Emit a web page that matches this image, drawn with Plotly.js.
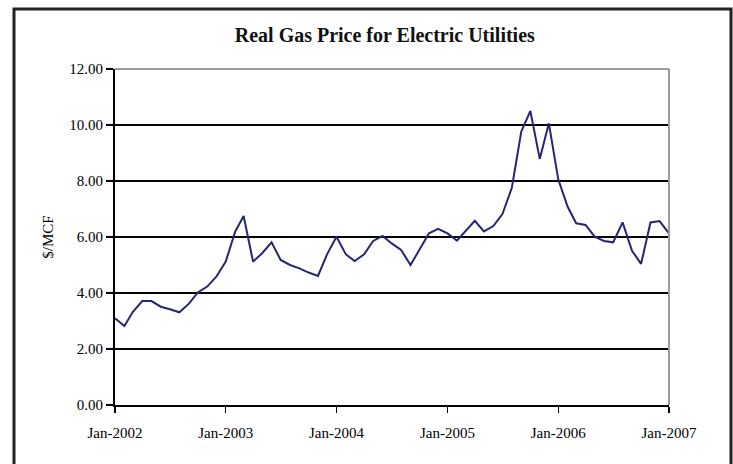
<!DOCTYPE html>
<html>
<head>
<meta charset="utf-8">
<script src="https://cdn.plot.ly/plotly-3.0.1.min.js"></script>
<style>
  html, body { margin: 0; padding: 0; background: #fff; }
  #chart { width: 733px; height: 464px; }
</style>
</head>
<body>
<div id="chart"></div>
<script>
// Monthly real gas price for electric utilities ($/MCF), Jan-2002 .. Jan-2007
const startYear = 2002;
const prices = [
  3.10, 2.82, 3.33, 3.71, 3.71, 3.51, 3.42, 3.31, 3.61, 4.02, 4.23, 4.58,
  5.12, 6.19, 6.75, 5.12, 5.42, 5.81, 5.18, 5.00, 4.88, 4.73, 4.61, 5.38,
  6.01, 5.38, 5.14, 5.38, 5.86, 6.04, 5.77, 5.54, 5.00, 5.56, 6.13, 6.29,
  6.13, 5.87, 6.21, 6.58, 6.20, 6.39, 6.82, 7.76, 9.76, 10.50, 8.79, 10.06,
  8.06, 7.08, 6.49, 6.43, 6.01, 5.86, 5.81, 6.52, 5.51, 5.04, 6.52, 6.57,
  6.13
];
const months = prices.map((_, i) => {
  const y = startYear + Math.floor(i / 12);
  const m = (i % 12) + 1;
  return y + '-' + String(m).padStart(2, '0') + '-01';
});
const xTickVals = ['2002-01-01', '2003-01-01', '2004-01-01', '2005-01-01', '2006-01-01', '2007-01-01'];
const xTickText = ['Jan-2002', 'Jan-2003', 'Jan-2004', 'Jan-2005', 'Jan-2006', 'Jan-2007'];
const yTickVals = [0, 2, 4, 6, 8, 10, 12];

const font = 'Liberation Serif, Times New Roman, serif';

const trace = {
  x: months,
  y: prices,
  type: 'scatter',
  mode: 'lines',
  line: { color: '#262673', width: 2 },
  hoverinfo: 'x+y'
};

const layout = {
  width: 733,
  height: 464,
  margin: { l: 115, r: 64, t: 69, b: 59 },
  paper_bgcolor: '#ffffff',
  plot_bgcolor: '#ffffff',
  showlegend: false,
  font: { family: font, color: '#000', size: 14 },
  title: {
    text: '<b>Real Gas Price for Electric Utilities</b>',
    font: { family: font, size: 20, color: '#111' },
    x: 0.487, xref: 'paper', xanchor: 'center',
    y: 0.925, yref: 'container', yanchor: 'middle'
  },
  xaxis: {
    type: 'date',
    range: ['2002-01-01', '2007-01-01'],
    tickmode: 'array',
    tickvals: xTickVals,
    ticktext: xTickText,
    ticks: 'outside',
    ticklen: 6,
    tickwidth: 1.5,
    tickcolor: '#000',
    ticklabelstandoff: 7,
    showline: true,
    linecolor: '#000',
    linewidth: 2,
    showgrid: false,
    zeroline: false,
    tickfont: { family: font, size: 15, color: '#000' },
    fixedrange: true
  },
  yaxis: {
    range: [0, 12],
    tickmode: 'array',
    tickvals: yTickVals,
    tickformat: '.2f',
    ticks: 'outside',
    ticklen: 7,
    tickwidth: 1.5,
    tickcolor: '#000',
    showline: true,
    linecolor: '#000',
    linewidth: 2,
    showgrid: true,
    gridcolor: '#000',
    gridwidth: 1.5,
    zeroline: false,
    tickfont: { family: font, size: 15, color: '#000' },
    title: { text: '$/MCF', font: { family: font, size: 15, color: '#000' }, standoff: 12 },
    fixedrange: true
  },
  shapes: [
    // gray plot-area border (top & right)
    { type: 'line', xref: 'paper', yref: 'paper', x0: 0, x1: 1, y0: 1, y1: 1,
      line: { color: '#9a9a9a', width: 2 }, layer: 'above' },
    { type: 'line', xref: 'paper', yref: 'paper', x0: 1, x1: 1, y0: 0, y1: 1,
      line: { color: '#9a9a9a', width: 2 }, layer: 'above' },
    // outer chart frame
    { type: 'rect', xref: 'paper', yref: 'paper',
      x0: -0.1823, x1: 1.1119, y0: -0.3, y1: 1.1786,
      line: { color: '#222', width: 3 }, fillcolor: 'rgba(0,0,0,0)', layer: 'above' }
  ]
};

Plotly.newPlot('chart', [trace], layout, { displayModeBar: false, staticPlot: true });
</script>
</body>
</html>
